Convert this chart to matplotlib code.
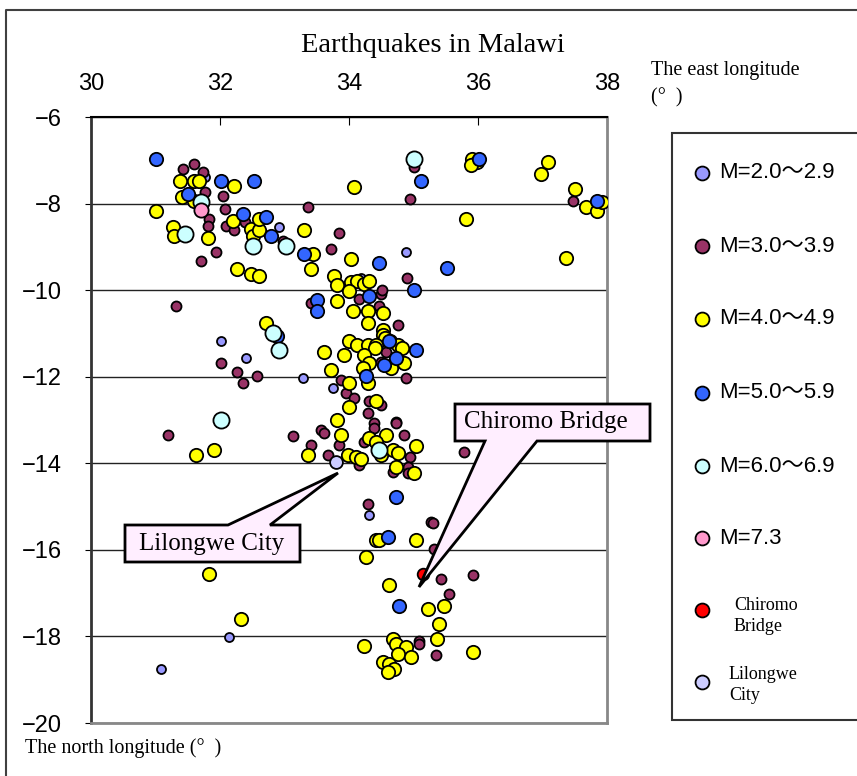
import matplotlib

matplotlib.use("Agg")

import matplotlib.pyplot as plt  # noqa: E402
from matplotlib.patches import Polygon, Rectangle  # noqa: E402

# epicentres: (east longitude, latitude)
m2_lon = [31.77, 32.92, 34.88, 34.19, 32.02, 32.40, 33.28, 33.75, 34.31, 32.14, 31.09]
m2_lat = [-7.39, -8.55, -9.13, -9.71, -11.18, -11.57, -12.03, -12.26, -15.20, -18.02, -18.75]

m3_lon = [31.42, 31.60, 31.74, 31.76, 32.04, 32.07, 31.83, 31.81, 31.94, 31.71, 32.09, 32.22,
          32.38, 33.36, 33.85, 33.72, 31.32, 33.41, 35.01, 34.94, 37.47, 34.90, 34.16, 34.50,
          34.51, 34.47, 32.02, 32.27, 32.35, 32.58, 33.88, 33.95, 31.19, 33.13, 33.57, 33.62,
          33.41, 33.85, 33.67, 34.76, 34.57, 34.88, 34.08, 34.31, 34.50, 34.29, 34.39, 34.39,
          34.73, 34.73, 34.86, 34.24, 34.16, 34.94, 34.91, 34.91, 34.68, 35.79, 34.29, 35.27,
          35.30, 35.32, 35.43, 35.92, 35.55, 35.09, 35.09, 35.35, 32.98, 34.50]
m3_lat = [-7.20, -7.08, -7.27, -7.74, -7.82, -8.13, -8.36, -8.51, -9.13, -9.33, -8.52, -8.60,
          -8.43, -8.09, -8.67, -9.06, -10.37, -10.29, -7.16, -7.89, -7.93, -9.72, -10.21, -10.09,
          -9.99, -10.36, -11.68, -11.88, -12.15, -11.99, -12.07, -12.38, -13.35, -13.38, -13.23, -13.31,
          -13.58, -13.58, -13.81, -10.80, -11.42, -12.03, -12.50, -12.57, -12.65, -12.84, -13.08, -13.19,
          -13.04, -13.08, -13.35, -13.50, -14.04, -13.85, -14.08, -14.23, -14.19, -13.73, -14.93, -15.35,
          -15.39, -15.97, -16.67, -16.59, -17.01, -18.10, -18.17, -18.44, -8.86, -11.65]

m4_lon = [31.38, 31.60, 31.68, 32.22, 31.41, 31.59, 31.01, 31.81, 31.27, 31.29, 32.20, 32.48,
          32.51, 32.60, 32.61, 33.31, 33.44, 33.41, 32.27, 32.48, 32.61, 33.82, 33.77, 33.82,
          34.03, 34.07, 35.91, 35.98, 35.89, 37.08, 36.97, 37.51, 37.67, 37.84, 37.92, 35.81,
          37.37, 34.03, 34.13, 34.24, 34.31, 34.00, 34.06, 34.29, 34.52, 32.71, 34.00, 34.00,
          33.62, 33.93, 33.72, 34.00, 31.91, 31.63, 33.82, 33.88, 33.36, 33.98, 34.29, 34.52,
          34.52, 34.56, 34.64, 34.13, 34.29, 34.42, 34.41, 34.76, 34.82, 34.24, 34.86, 34.65,
          34.31, 34.21, 34.29, 34.42, 34.57, 34.31, 34.42, 34.50, 34.11, 34.19, 34.68, 34.76,
          35.04, 34.73, 35.01, 31.83, 32.33, 34.42, 34.47, 35.04, 34.26, 34.62, 35.22, 35.48,
          35.40, 35.37, 35.92, 34.24, 34.68, 34.73, 34.88, 34.76, 34.96, 34.52, 34.62, 34.70,
          34.60]
m4_lat = [-7.47, -7.47, -7.47, -7.59, -7.85, -7.93, -8.18, -8.79, -8.55, -8.74, -8.40, -8.59,
          -8.74, -8.62, -8.36, -8.60, -9.17, -9.52, -9.52, -9.63, -9.67, -10.25, -9.68, -9.87,
          -9.29, -7.62, -6.97, -7.05, -7.10, -7.05, -7.32, -7.66, -8.09, -8.17, -7.97, -8.36,
          -9.25, -9.82, -9.78, -9.86, -9.78, -10.02, -10.48, -10.48, -10.52, -10.76, -12.15, -12.69,
          -11.42, -11.49, -11.84, -11.18, -13.69, -13.81, -13.00, -13.35, -13.81, -13.81, -10.76, -10.91,
          -11.03, -11.10, -11.18, -11.26, -11.26, -11.26, -11.34, -11.26, -11.34, -11.49, -11.68, -11.80,
          -11.68, -11.80, -12.15, -12.57, -13.35, -13.42, -13.50, -13.81, -13.85, -13.89, -13.69, -13.77,
          -13.61, -14.08, -14.23, -16.55, -17.59, -15.78, -15.78, -15.78, -16.16, -16.82, -17.36, -17.29,
          -17.71, -18.06, -18.37, -18.21, -18.06, -18.17, -18.25, -18.41, -18.48, -18.60, -18.64, -18.75,
          -18.83]

m5_lon = [31.01, 32.02, 32.53, 31.50, 32.35, 32.71, 32.79, 33.31, 33.51, 33.51, 35.12, 36.02,
          37.85, 35.52, 35.01, 34.47, 34.31, 32.88, 34.62, 35.04, 34.73, 34.55, 34.26, 34.73,
          34.60, 34.78]
m5_lat = [-6.97, -7.47, -7.47, -7.78, -8.24, -8.32, -8.74, -9.17, -10.22, -10.49, -7.47, -6.97,
          -7.93, -9.48, -9.99, -9.37, -10.14, -11.07, -11.18, -11.38, -11.57, -11.72, -11.99, -14.77,
          -15.70, -17.29]

m6_lon = [31.71, 31.45, 32.51, 33.02, 35.01, 32.82, 32.92, 32.02, 34.47]
m6_lat = [-7.97, -8.70, -8.97, -8.97, -6.97, -10.99, -11.38, -13.00, -13.69]

m73_lon = [31.71]
m73_lat = [-8.16]

chiromo_lon = [35.14]
chiromo_lat = [-16.55]

lilongwe_lon = [33.80]
lilongwe_lat = [-13.96]

x_ticks = [30, 32, 34, 36, 38]
y_ticks = [-6, -8, -10, -12, -14, -16, -18, -20]

legend_labels = ["M=2.0～2.9", "M=3.0～3.9", "M=4.0～4.9", "M=5.0～5.9",
                 "M=6.0～6.9", "M=7.3", "Chiromo\nBridge", "Lilongwe\nCity"]

series = [
    (m2_lon, m2_lat, "#9999FF", 42),
    (m3_lon, m3_lat, "#993366", 52),
    (m4_lon, m4_lat, "#FFFF00", 92),
    (m5_lon, m5_lat, "#3366FF", 92),
    (m6_lon, m6_lat, "#CCFFFF", 135),
    (m73_lon, m73_lat, "#FF99CC", 105),
    (chiromo_lon, chiromo_lat, "#FF0000", 70),
    (lilongwe_lon, lilongwe_lat, "#CCCCFF", 85),
]

W, H = 857, 776
SANS = ["Liberation Sans", "Noto Sans CJK JP"]
SERIF = ["Liberation Serif", "DejaVu Serif"]

fig = plt.figure(figsize=(W / 100, H / 100), dpi=100)
ax = fig.add_axes([91 / W, 1 - 723 / H, (607 - 91) / W, (723 - 117) / H])

for lon, lat, color, size in series:
    ax.scatter(lon, lat, s=size, c=color, edgecolors="black", linewidths=1.3, zorder=3)

ax.set_xlim(30, 38)
ax.set_ylim(-20, -6)
ax.set_xticks(x_ticks)
ax.set_yticks(y_ticks)
ax.xaxis.tick_top()
ax.tick_params(axis="x", direction="in", length=6, pad=16, labelsize=17)
ax.tick_params(axis="y", direction="out", length=4, pad=17, labelsize=17)
for lbl in ax.get_xticklabels() + ax.get_yticklabels():
    lbl.set_family(SANS)
ax.grid(axis="y", color="#222222", linewidth=1)
ax.set_axisbelow(True)
ax.spines["top"].set_color("black")
ax.spines["top"].set_linewidth(1.5)
ax.spines["left"].set_color("#333333")
ax.spines["left"].set_linewidth(2)
for side in ("right", "bottom"):
    ax.spines[side].set_color("#888888")
    ax.spines[side].set_linewidth(2)

# overlay in pixel coordinates for frame, texts, callouts and legend
ov = fig.add_axes([0, 0, 1, 1])
ov.set_xlim(0, W)
ov.set_ylim(H, 0)
ov.axis("off")

ov.plot([6, 6, W], [H, 10, 10], color="#404040", linewidth=1.5)

ov.text(433, 46, "Earthquakes in Malawi", ha="center", va="center", family=SERIF, fontsize=20.5)
ov.text(651, 70, "The east longitude", ha="left", va="center", family=SERIF, fontsize=14.5)
ov.text(651, 98, "(°  )", ha="left", va="center", family=SERIF, fontsize=14.5)
ov.text(25, 748, "The north longitude (°  )", ha="left", va="center", family=SERIF, fontsize=14.5)

callout_fill = "#FFEEFF"
chiromo_shape = [(455, 404), (650, 404), (650, 441), (537, 441), (419, 587), (485, 441), (455, 441)]
ov.add_patch(Polygon(chiromo_shape, closed=True, facecolor=callout_fill, edgecolor="black",
                     linewidth=2, zorder=5))
ov.text(546, 422, "Chiromo Bridge", ha="center", va="center", family=SERIF, fontsize=18, zorder=6)

lilongwe_shape = [(125, 525), (228, 525), (338, 473), (270, 525), (300, 525), (300, 562), (125, 562)]
ov.add_patch(Polygon(lilongwe_shape, closed=True, facecolor=callout_fill, edgecolor="black",
                     linewidth=2, zorder=5))
ov.text(212, 544, "Lilongwe City", ha="center", va="center", family=SERIF, fontsize=18, zorder=6)

# legend box
ov.add_patch(Rectangle((672, 133), 200, 587, facecolor="white", edgecolor="#333333", linewidth=1.5))
row_y = [173, 246, 319, 393, 466, 538, 610, 682]
for i, (label, (_, _, color, _)) in enumerate(zip(legend_labels, series)):
    y = row_y[i]
    ov.scatter([702], [y], s=100, c=color, edgecolors="black", linewidths=1.3, zorder=4)
    if i < 6:
        ov.text(719, y, label, ha="left", va="center", family=SANS, fontsize=16)
    elif i == 6:
        ov.text(734, y + 6, label, ha="left", va="center", family=SERIF, fontsize=13,
                linespacing=1.3)
    else:
        ov.text(729, y + 3, label, ha="left", va="center", family=SERIF, fontsize=13,
                linespacing=1.3)

fig.savefig("out.png", dpi=100)
plt.close(fig)
